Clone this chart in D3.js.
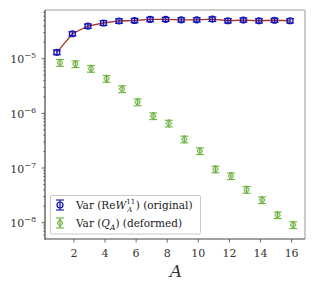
<!DOCTYPE html>
<html>
<head>
<meta charset="utf-8">
<script src="https://cdn.jsdelivr.net/npm/d3@7"></script>
<style>
  body { margin: 0; background: #fff; }
  text { font-family: "DejaVu Serif", "Liberation Serif", serif; }
</style>
</head>
<body>
<script>
var A = [1, 2, 3, 4, 5, 6, 7, 8, 9, 10, 11, 12, 13, 14, 15, 16];
var varOriginal = [1.31e-5, 2.86e-5, 3.96e-5, 4.5e-5, 4.9e-5, 5.0e-5, 5.25e-5, 5.25e-5,
                   5.15e-5, 5.15e-5, 5.3e-5, 4.95e-5, 5.1e-5, 4.95e-5, 5.05e-5, 4.95e-5];
var errOriginal = [0.13e-5, 0.25e-5, 0.35e-5, 0.45e-5, 0.45e-5, 0.45e-5, 0.5e-5, 0.45e-5,
                   0.45e-5, 0.45e-5, 0.5e-5, 0.45e-5, 0.45e-5, 0.45e-5, 0.45e-5, 0.45e-5];
var varDeformed = [8.45e-6, 8.0e-6, 6.56e-6, 4.3e-6, 2.79e-6, 1.61e-6, 8.95e-7, 6.57e-7,
                   3.36e-7, 2.05e-7, 9.5e-8, 7.15e-8, 4.02e-8, 2.6e-8, 1.38e-8, 9.1e-9];
var errDeformed = [1.2e-6, 1.1e-6, 0.9e-6, 0.6e-6, 0.39e-6, 0.23e-6, 1.25e-7, 0.92e-7,
                   0.47e-7, 0.29e-7, 1.3e-8, 1.0e-8, 0.56e-8, 0.36e-8, 0.19e-8, 1.3e-9];
var xTicks = [2, 4, 6, 8, 10, 12, 14, 16];
var yTicks = [-8, -7, -6, -5];
var legendLabels = ["original", "deformed"];

var w = 315, h = 290;
var mLeft = 45, mRight = 305, mTop = 10, mBottom = 239;

var svg = d3.select("body").append("svg")
    .attr("width", w)
    .attr("height", h);

var xScale = d3.scaleLinear().domain([0.14, 16.86]).range([mLeft, mRight]);
var yScale = d3.scaleLog().domain([Math.pow(10, -8.298), Math.pow(10, -4.109)]).range([mBottom, mTop]);

var blue = "#1010b4";
var green = "#6cb33f";
var red = "#a8322a";

// frame
svg.append("line").attr("x1", mLeft).attr("x2", mRight).attr("y1", mTop).attr("y2", mTop)
    .attr("stroke", "#bdbdbd").attr("stroke-width", 1.6);
svg.append("line").attr("x1", mRight).attr("x2", mRight).attr("y1", mTop).attr("y2", mBottom)
    .attr("stroke", "#bdbdbd").attr("stroke-width", 1.6);
svg.append("line").attr("x1", mLeft).attr("x2", mLeft).attr("y1", mTop).attr("y2", mBottom + 0.5)
    .attr("stroke", "#444").attr("stroke-width", 1.2);
svg.append("line").attr("x1", mLeft - 0.5).attr("x2", mRight).attr("y1", mBottom).attr("y2", mBottom)
    .attr("stroke", "#444").attr("stroke-width", 1.2);

// x ticks
xTicks.forEach(function(t) {
    svg.append("line").attr("x1", xScale(t)).attr("x2", xScale(t))
        .attr("y1", mBottom).attr("y2", mBottom + 3.5)
        .attr("stroke", "#444").attr("stroke-width", 0.8);
    svg.append("text").attr("x", xScale(t)).attr("y", mBottom + 18)
        .attr("text-anchor", "middle").attr("font-size", "11px").attr("fill", "#333")
        .text(t);
});

// y ticks, major and minor
var yDom = yScale.domain();
for (var e = -9; e <= -4; e++) {
    for (var m = 1; m <= 9; m++) {
        var v = m * Math.pow(10, e);
        if (v < yDom[0] || v > yDom[1]) continue;
        svg.append("line").attr("x1", mLeft).attr("x2", mLeft - (m == 1 ? 3.5 : 2))
            .attr("y1", yScale(v)).attr("y2", yScale(v))
            .attr("stroke", "#444").attr("stroke-width", m == 1 ? 0.8 : 0.6);
    }
}
yTicks.forEach(function(t) {
    var lab = svg.append("text").attr("x", mLeft - 9).attr("y", yScale(Math.pow(10, t)) + 4.5)
        .attr("text-anchor", "end").attr("font-size", "11px").attr("fill", "#333");
    lab.append("tspan").text("10");
    lab.append("tspan").attr("dy", -5).attr("font-size", "8px").text("\u2212" + (-t));
});

// x label
svg.append("text").attr("x", 176).attr("y", 277)
    .attr("text-anchor", "middle").attr("font-size", "17px")
    .attr("font-style", "italic").attr("fill", "#333")
    .text("A");

var blueX = function(i) { return xScale(A[i] - 0.1); };
var greenX = function(i) { return xScale(A[i] + 0.1); };

var capHalf = 4;

// red connecting line
var line = d3.line()
    .x(function(d, i) { return blueX(i); })
    .y(function(d) { return yScale(d); });
svg.append("path").datum(varOriginal)
    .attr("d", line).attr("fill", "none")
    .attr("stroke", red).attr("stroke-width", 1.3);

// error bars
function errorBars(g, vals, errs, xf, color) {
    var eb = g.selectAll("g").data(vals).enter().append("g");
    eb.append("line")
        .attr("x1", function(d, i) { return xf(i); })
        .attr("x2", function(d, i) { return xf(i); })
        .attr("y1", function(d, i) { return yScale(d - errs[i]); })
        .attr("y2", function(d, i) { return yScale(d + errs[i]); })
        .attr("stroke", color).attr("stroke-width", 1.1);
    [-1, 1].forEach(function(s) {
        eb.append("line")
            .attr("x1", function(d, i) { return xf(i) - capHalf; })
            .attr("x2", function(d, i) { return xf(i) + capHalf; })
            .attr("y1", function(d, i) { return yScale(d + s * errs[i]); })
            .attr("y2", function(d, i) { return yScale(d + s * errs[i]); })
            .attr("stroke", color).attr("stroke-width", 1.1);
    });
}

errorBars(svg.append("g"), varDeformed, errDeformed, greenX, green);
svg.append("g").selectAll("path").data(varDeformed).enter().append("path")
    .attr("d", function(d, i) {
        var x = greenX(i), y = yScale(d);
        return "M" + x + "," + (y - 4) + "L" + (x + 2.8) + "," + y + "L" + x + "," + (y + 4) + "L" + (x - 2.8) + "," + y + "Z";
    })
    .attr("fill", green).attr("fill-opacity", 0.35)
    .attr("stroke", green).attr("stroke-width", 1);

errorBars(svg.append("g"), varOriginal, errOriginal, blueX, blue);
svg.append("g").selectAll("circle").data(varOriginal).enter().append("circle")
    .attr("cx", function(d, i) { return blueX(i); })
    .attr("cy", function(d) { return yScale(d); })
    .attr("r", 3)
    .attr("fill", blue).attr("fill-opacity", 0.15)
    .attr("stroke", blue).attr("stroke-width", 1.2);

// legend
var lg = svg.append("g");
lg.append("rect").attr("x", 50.5).attr("y", 195.5).attr("width", 150).attr("height", 38.5)
    .attr("fill", "#fff").attr("fill-opacity", 0.85)
    .attr("stroke", "#c8c8c8").attr("stroke-width", 1).attr("rx", 1.5);

function legendMarker(y, color, kind) {
    var x = 60;
    lg.append("line").attr("x1", x).attr("x2", x).attr("y1", y - 5).attr("y2", y + 5)
        .attr("stroke", color).attr("stroke-width", 1.1);
    lg.append("line").attr("x1", x - 4).attr("x2", x + 4).attr("y1", y - 5).attr("y2", y - 5)
        .attr("stroke", color).attr("stroke-width", 1.1);
    lg.append("line").attr("x1", x - 4).attr("x2", x + 4).attr("y1", y + 5).attr("y2", y + 5)
        .attr("stroke", color).attr("stroke-width", 1.1);
    if (kind == "o") {
        lg.append("circle").attr("cx", x).attr("cy", y).attr("r", 3)
            .attr("fill", color).attr("fill-opacity", 0.15).attr("stroke", color).attr("stroke-width", 1.2);
    } else {
        lg.append("path")
            .attr("d", "M" + x + "," + (y - 4) + "L" + (x + 2.8) + "," + y + "L" + x + "," + (y + 4) + "L" + (x - 2.8) + "," + y + "Z")
            .attr("fill", color).attr("fill-opacity", 0.35)
            .attr("stroke", color).attr("stroke-width", 1);
    }
}
legendMarker(205, blue, "o");
legendMarker(223, green, "d");

var t1 = lg.append("text").attr("x", 76).attr("y", 208.5).attr("font-size", "10.5px").attr("fill", "#222");
t1.append("tspan").text("Var (Re");
t1.append("tspan").attr("font-style", "italic").text("W");
t1.append("tspan").attr("dy", -4.5).attr("font-size", "7px").text("11");
t1.append("tspan").attr("dx", -8).attr("dy", 8).attr("font-size", "7px").attr("font-style", "italic").text("A");
t1.append("tspan").attr("dy", -3.5).attr("dx", 3.5).text(") (" + legendLabels[0] + ")");

var t2 = lg.append("text").attr("x", 76).attr("y", 226.5).attr("font-size", "10.5px").attr("fill", "#222");
t2.append("tspan").text("Var (");
t2.append("tspan").attr("font-style", "italic").text("Q");
t2.append("tspan").attr("dy", 3).attr("font-size", "7.5px").attr("font-style", "italic").text("A");
t2.append("tspan").attr("dy", -3).text(") (" + legendLabels[1] + ")");
</script>
</body>
</html>
